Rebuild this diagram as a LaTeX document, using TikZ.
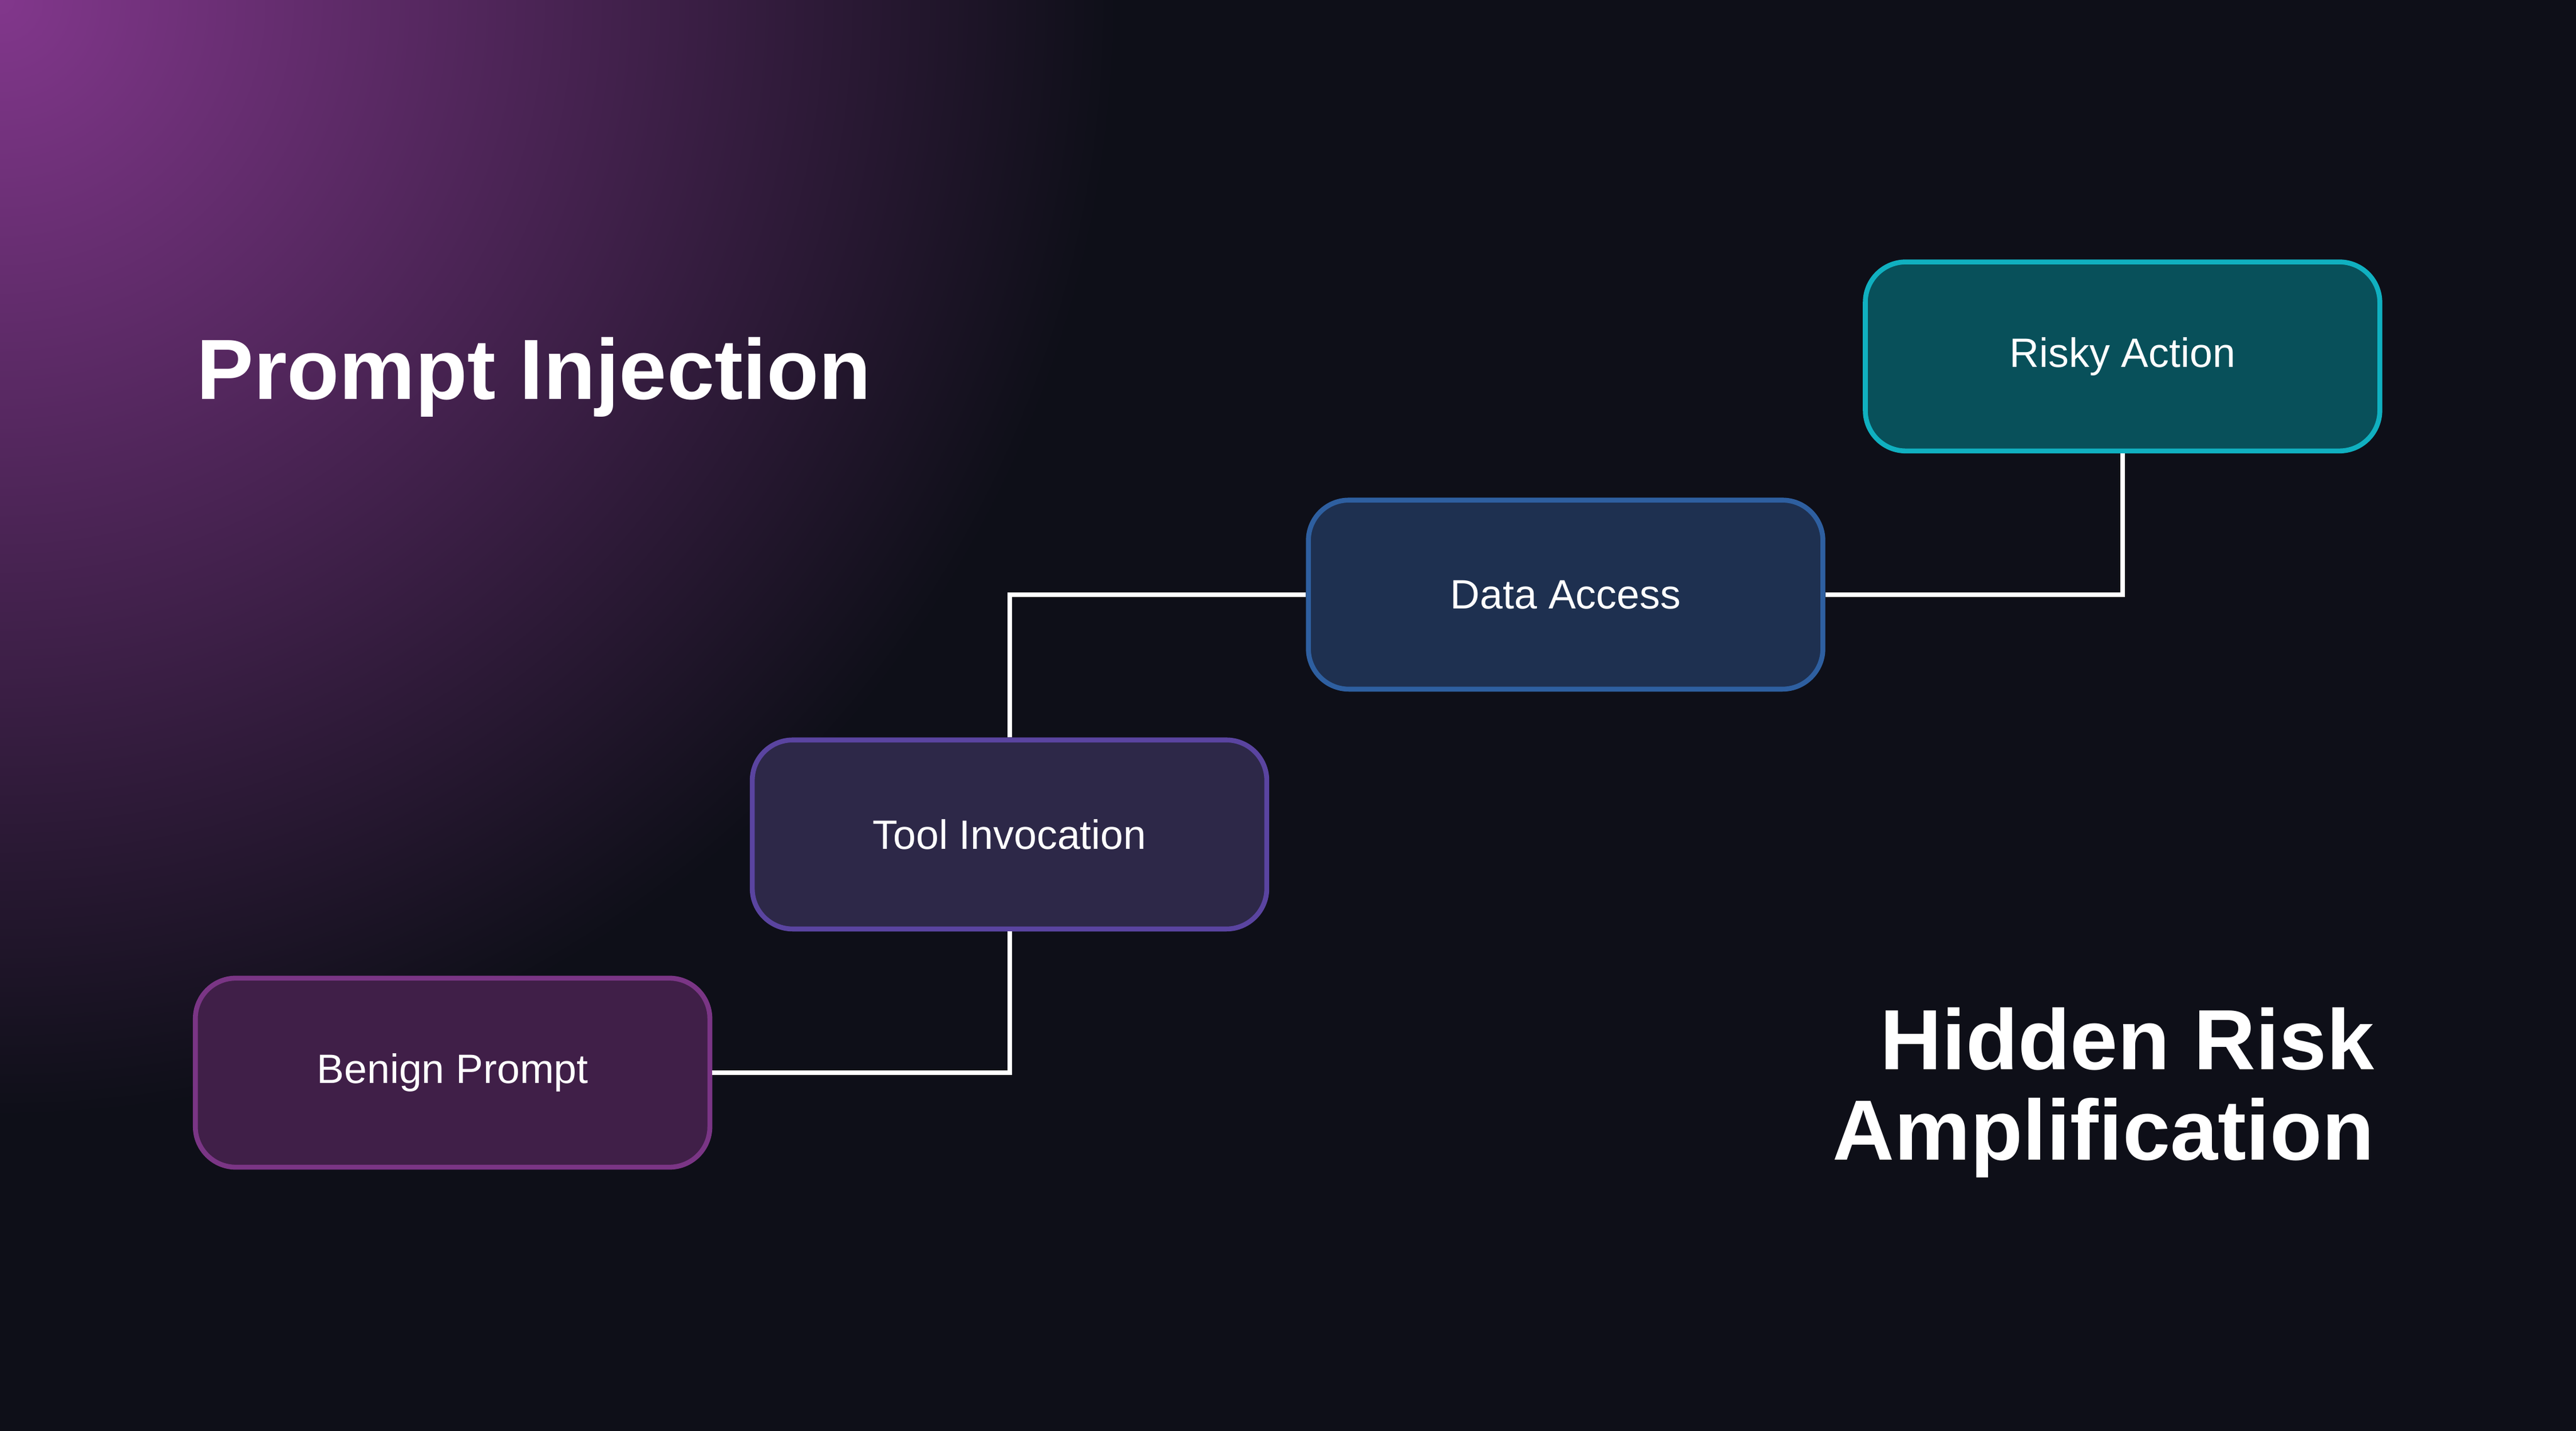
\documentclass[tikz,border=0pt]{standalone}
\usepackage{fontspec}
\setmainfont{Liberation Sans}
\begin{document}
\begin{tikzpicture}[x=0.01cm,y=-0.01cm,
  box/.style={draw, rounded corners=7pt, line width=0.85pt, minimum width=3.13cm, minimum height=1.15cm, text=white, font=\fontsize{7.1}{8}\selectfont},
  conn/.style={draw=white, line width=0.8pt}]
\definecolor{bg}{HTML}{0E0F18}
\useasboundingbox (0,0) rectangle (1568,871);
\fill[bg] (0,0) rectangle (1568,871);
\begin{scope}
\clip (0,0) rectangle (1568,871);
\shade[inner color={rgb,255:red,130;green,55;blue,140}, outer color=bg] (0,0) circle (680);
\end{scope}
\node[box, fill={rgb,255:red,64;green,31;blue,72}, draw={rgb,255:red,122;green,53;blue,133}] (b) at (275.5,653) {Benign Prompt};
\node[box, fill={rgb,255:red,45;green,40;blue,72}, draw={rgb,255:red,90;green,68;blue,160}] (t) at (614.5,508) {Tool Invocation};
\node[box, fill={rgb,255:red,30;green,48;blue,80}, draw={rgb,255:red,46;green,95;blue,160}] (d) at (953,362) {Data Access};
\node[box, fill={rgb,255:red,8;green,80;blue,90}, draw={rgb,255:red,16;green,176;blue,192}] (r) at (1292,217) {Risky Action};
\draw[conn] (b.east) -| (t.south);
\draw[conn] (t.north) |- (d.west);
\draw[conn] (d.east) -| (r.south);
\node[anchor=base west, text=white, font=\bfseries\fontsize{14.8}{16}\selectfont, inner sep=0pt] (p) at (119,243) {Prompt Injection};
\node[anchor=base east, text=white, font=\bfseries\fontsize{14.8}{15.6}\selectfont, align=right, inner sep=0pt] (h) at (1446,706) {Hidden Risk\\Amplification};
\end{tikzpicture}
\end{document}
